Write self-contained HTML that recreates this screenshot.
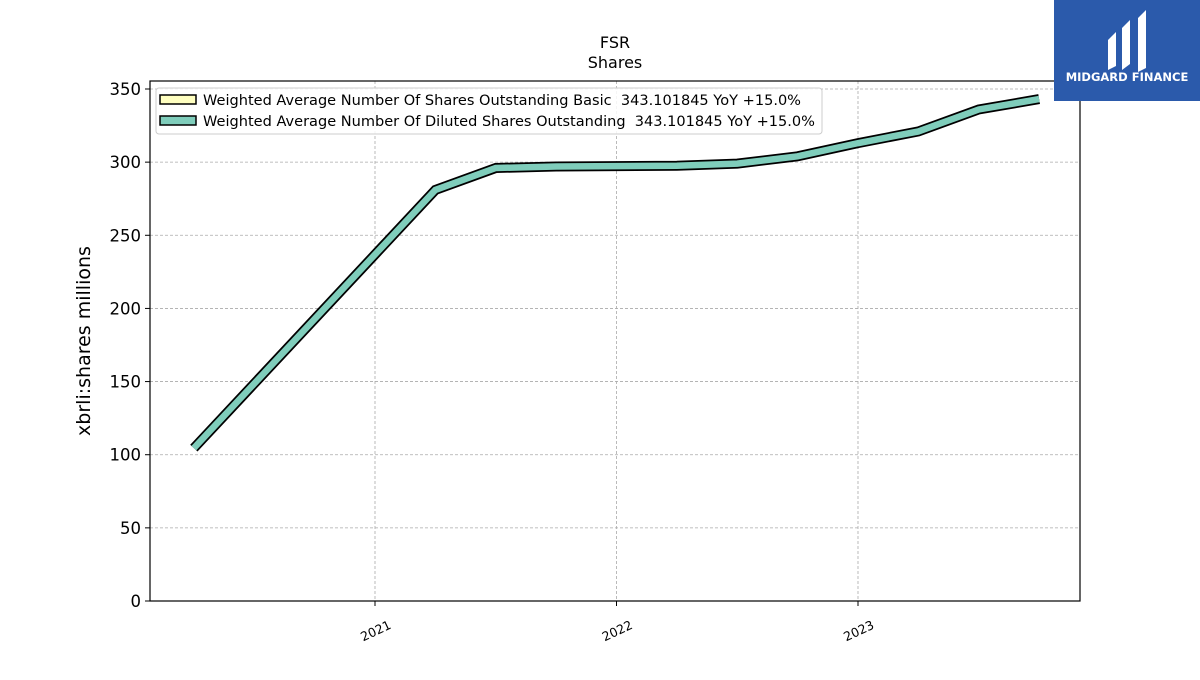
<!DOCTYPE html>
<html><head><meta charset="utf-8"><style>
body{margin:0;background:#fff;width:1200px;height:675px;overflow:hidden;font-family:"Liberation Sans","DejaVu Sans",sans-serif;}
</style></head><body>
<svg width="1200" height="675" xmlns="http://www.w3.org/2000/svg" font-family="DejaVu Sans, Liberation Sans, sans-serif">
<text x="615" y="48" text-anchor="middle" font-size="16">FSR</text>
<text x="615" y="68" text-anchor="middle" font-size="16">Shares</text>
<g id="grid"></g>
<g id="series"></g>
<rect x="150" y="81" width="930" height="520" fill="none" stroke="#000" stroke-width="1.2"/>
<g id="yticks"></g>
<g id="xticks"></g>
<text transform="translate(90,341) rotate(-90)" text-anchor="middle" font-size="19">xbrli:shares millions</text>
<g>
<rect x="156" y="88" width="666" height="46" rx="3" fill="#fff" fill-opacity="0.85" stroke="#ccc"/>
<rect x="160" y="95" width="36" height="9" fill="#ffffc0" stroke="#000" stroke-width="1.5"/>
<text x="203" y="105" font-size="14" textLength="598" lengthAdjust="spacingAndGlyphs">Weighted Average Number Of Shares Outstanding Basic&#160;&#160;343.101845 YoY +15.0%</text>
<rect x="160" y="116" width="36" height="9" fill="#7fcdbb" stroke="#000" stroke-width="1.5"/>
<text x="203" y="126" font-size="14" textLength="612" lengthAdjust="spacingAndGlyphs">Weighted Average Number Of Diluted Shares Outstanding&#160;&#160;343.101845 YoY +15.0%</text>
</g>
<g>
<rect x="1054" y="0" width="146" height="101" fill="#2b5aab"/>
<path d="M1108 40 l8 -8 v34 l-8 4z M1122 28 l8 -8 v44 l-8 6z M1138 18 l8 -8 v58 l-8 4z" fill="#fff"/>
<text x="1127" y="81" text-anchor="middle" font-size="11.5" font-weight="bold" fill="#fff">MIDGARD FINANCE</text>
</g>
</svg>
<script>
const dates=[2020.25,2021.25,2021.5,2021.75,2022.0,2022.25,2022.5,2022.75,2023.0,2023.25,2023.5,2023.75];
const values=[104.5,281,296,297,297.3,297.5,299,304,313,321,336,343.1];
const yTicks=[0,50,100,150,200,250,300,350];
const xTicks=[2021,2022,2023];
const ns="http://www.w3.org/2000/svg";
const X=d=>375+(d-2021)*241.5;
const Y=v=>601-v*(512/350);
function mk(t,a,p){const e=document.createElementNS(ns,t);for(const k in a)e.setAttribute(k,a[k]);p.appendChild(e);return e;}
const grid=document.getElementById('grid'),yt=document.getElementById('yticks'),xt=document.getElementById('xticks'),ser=document.getElementById('series');
yTicks.forEach(v=>{
 const l=mk('line',{x1:150,x2:1080,y1:Y(v),y2:Y(v),stroke:'#aaa','stroke-dasharray':'3,2','stroke-width':0.8},grid);
 
 
 const t=mk('line',{x1:145,x2:150,y1:Y(v),y2:Y(v),stroke:'#000'},yt);
 
 
 const s=mk('text',{x:141,y:Y(v)+6,'text-anchor':'end','font-size':16.5},yt);s.textContent=v;
 
 
});
xTicks.forEach(d=>{
 const l=mk('line',{x1:X(d),x2:X(d),y1:81,y2:601,stroke:'#aaa','stroke-dasharray':'3,2','stroke-width':0.8},grid);
 
 
 const t=mk('line',{x1:X(d),x2:X(d),y1:601,y2:606,stroke:'#000'},xt);
 
 
 const s=mk('text',{x:X(d)+17,y:628,'text-anchor':'end','font-size':12.5,transform:`rotate(-25 ${X(d)+17} 628)`},xt);s.textContent=d;
 
 
});
const pts=dates.map((d,i)=>X(d)+','+Y(values[i])).join(' ');
const o=mk('polyline',{points:pts,fill:'none',stroke:'#000','stroke-width':10,'stroke-linejoin':'miter','stroke-linecap':'butt'},ser);


const p=mk('polyline',{points:pts,fill:'none',stroke:'#7fcdbb','stroke-width':6.5,'stroke-linejoin':'miter','stroke-linecap':'butt'},ser);


</script>
</body></html>
